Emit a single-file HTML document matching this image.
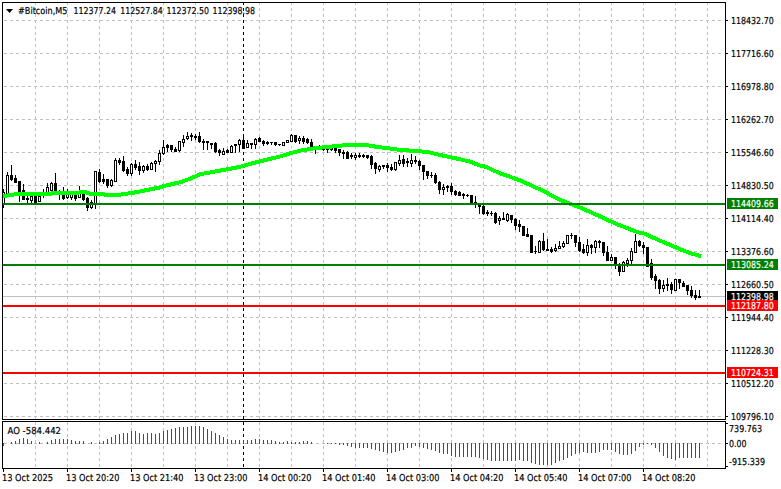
<!DOCTYPE html>
<html><head><meta charset="utf-8"><style>
html,body{margin:0;padding:0;background:#fff;width:781px;height:489px;overflow:hidden}
svg{display:block}
text{font-family:"DejaVu Sans",sans-serif;font-size:9.5px;fill:#000;stroke:#000;stroke-width:0.2px;white-space:pre;text-rendering:geometricPrecision}
</style></head><body>
<svg width="781" height="489" viewBox="0 0 781 489" shape-rendering="crispEdges" xml:space="preserve">
<path d="M4 20.5H724 M4 53.5H724 M4 86.5H724 M4 119.5H724 M4 152.5H724 M4 185.5H724 M4 218.5H724 M4 251.5H724 M4 284.5H724 M4 317.5H724 M4 350.5H724 M4 383.5H724 M4 416.5H724 M35.5 2V419 M35.5 422V468 M67.5 2V419 M67.5 422V468 M99.5 2V419 M99.5 422V468 M131.5 2V419 M131.5 422V468 M163.5 2V419 M163.5 422V468 M195.5 2V419 M195.5 422V468 M227.5 2V419 M227.5 422V468 M259.5 2V419 M259.5 422V468 M291.5 2V419 M291.5 422V468 M323.5 2V419 M323.5 422V468 M355.5 2V419 M355.5 422V468 M387.5 2V419 M387.5 422V468 M419.5 2V419 M419.5 422V468 M451.5 2V419 M451.5 422V468 M483.5 2V419 M483.5 422V468 M515.5 2V419 M515.5 422V468 M547.5 2V419 M547.5 422V468 M579.5 2V419 M579.5 422V468 M611.5 2V419 M611.5 422V468 M643.5 2V419 M643.5 422V468 M675.5 2V419 M675.5 422V468 M707.5 2V419 M707.5 422V468 M4 443.5H724" stroke="#c0c0c0" stroke-width="1" stroke-dasharray="3 3" fill="none"/>
<path d="M243.5 2V419M243.5 422V468" stroke="#000" stroke-width="1" stroke-dasharray="3 3" fill="none"/>
<rect x="3" y="296" width="722" height="1" fill="#c0c0c0"/>
<rect x="3" y="189" width="1" height="3" fill="#000"/>
<rect x="3" y="204" width="1" height="4" fill="#000"/>
<rect x="3" y="192" width="2" height="12" fill="#000"/>
<rect x="3" y="193" width="1" height="10" fill="#fff"/>
<rect x="7" y="172" width="1" height="3" fill="#000"/>
<rect x="6" y="175" width="3" height="19" fill="#000"/>
<rect x="7" y="176" width="1" height="17" fill="#fff"/>
<rect x="11" y="165" width="1" height="10" fill="#000"/>
<rect x="11" y="180" width="1" height="1" fill="#000"/>
<rect x="10" y="175" width="3" height="5" fill="#000"/>
<rect x="15" y="175" width="1" height="3" fill="#000"/>
<rect x="14" y="178" width="3" height="5" fill="#000"/>
<rect x="19" y="192" width="1" height="10" fill="#000"/>
<rect x="18" y="181" width="3" height="11" fill="#000"/>
<rect x="23" y="184" width="1" height="6" fill="#000"/>
<rect x="22" y="190" width="3" height="10" fill="#000"/>
<rect x="27" y="196" width="1" height="2" fill="#000"/>
<rect x="27" y="200" width="1" height="4" fill="#000"/>
<rect x="26" y="198" width="3" height="2" fill="#000"/>
<rect x="31" y="201" width="1" height="3" fill="#000"/>
<rect x="30" y="196" width="3" height="5" fill="#000"/>
<rect x="31" y="197" width="1" height="3" fill="#fff"/>
<rect x="35" y="195" width="1" height="1" fill="#000"/>
<rect x="34" y="196" width="3" height="7" fill="#000"/>
<rect x="38" y="196" width="3" height="6" fill="#000"/>
<rect x="39" y="197" width="1" height="4" fill="#fff"/>
<rect x="43" y="189" width="1" height="3" fill="#000"/>
<rect x="43" y="194" width="1" height="4" fill="#000"/>
<rect x="42" y="192" width="3" height="2" fill="#000"/>
<rect x="47" y="183" width="1" height="4" fill="#000"/>
<rect x="46" y="187" width="3" height="6" fill="#000"/>
<rect x="47" y="188" width="1" height="4" fill="#fff"/>
<rect x="51" y="182" width="1" height="1" fill="#000"/>
<rect x="51" y="191" width="1" height="1" fill="#000"/>
<rect x="50" y="183" width="3" height="8" fill="#000"/>
<rect x="51" y="184" width="1" height="6" fill="#fff"/>
<rect x="55" y="173" width="1" height="10" fill="#000"/>
<rect x="54" y="183" width="3" height="9" fill="#000"/>
<rect x="59" y="190" width="1" height="1" fill="#000"/>
<rect x="59" y="193" width="1" height="7" fill="#000"/>
<rect x="58" y="191" width="3" height="2" fill="#000"/>
<rect x="63" y="187" width="1" height="7" fill="#000"/>
<rect x="63" y="199" width="1" height="1" fill="#000"/>
<rect x="62" y="194" width="3" height="5" fill="#000"/>
<rect x="67" y="189" width="1" height="5" fill="#000"/>
<rect x="67" y="198" width="1" height="1" fill="#000"/>
<rect x="66" y="194" width="3" height="4" fill="#000"/>
<rect x="67" y="195" width="1" height="2" fill="#fff"/>
<rect x="71" y="193" width="1" height="1" fill="#000"/>
<rect x="71" y="198" width="1" height="2" fill="#000"/>
<rect x="70" y="194" width="3" height="4" fill="#000"/>
<rect x="71" y="195" width="1" height="2" fill="#fff"/>
<rect x="75" y="192" width="1" height="2" fill="#000"/>
<rect x="75" y="199" width="1" height="2" fill="#000"/>
<rect x="74" y="194" width="3" height="5" fill="#000"/>
<rect x="79" y="186" width="1" height="5" fill="#000"/>
<rect x="78" y="191" width="3" height="7" fill="#000"/>
<rect x="79" y="192" width="1" height="5" fill="#fff"/>
<rect x="83" y="200" width="1" height="1" fill="#000"/>
<rect x="82" y="194" width="3" height="6" fill="#000"/>
<rect x="87" y="197" width="1" height="1" fill="#000"/>
<rect x="87" y="208" width="1" height="3" fill="#000"/>
<rect x="86" y="198" width="3" height="10" fill="#000"/>
<rect x="91" y="200" width="1" height="2" fill="#000"/>
<rect x="91" y="208" width="1" height="1" fill="#000"/>
<rect x="90" y="202" width="3" height="6" fill="#000"/>
<rect x="91" y="203" width="1" height="4" fill="#fff"/>
<rect x="95" y="204" width="1" height="5" fill="#000"/>
<rect x="94" y="171" width="3" height="33" fill="#000"/>
<rect x="95" y="172" width="1" height="31" fill="#fff"/>
<rect x="99" y="169" width="1" height="3" fill="#000"/>
<rect x="99" y="182" width="1" height="1" fill="#000"/>
<rect x="98" y="172" width="3" height="10" fill="#000"/>
<rect x="103" y="174" width="1" height="5" fill="#000"/>
<rect x="103" y="182" width="1" height="2" fill="#000"/>
<rect x="102" y="179" width="3" height="3" fill="#000"/>
<rect x="107" y="186" width="1" height="2" fill="#000"/>
<rect x="106" y="179" width="3" height="7" fill="#000"/>
<rect x="111" y="179" width="1" height="1" fill="#000"/>
<rect x="111" y="186" width="1" height="1" fill="#000"/>
<rect x="110" y="180" width="3" height="6" fill="#000"/>
<rect x="111" y="181" width="1" height="4" fill="#fff"/>
<rect x="115" y="158" width="1" height="2" fill="#000"/>
<rect x="114" y="160" width="3" height="22" fill="#000"/>
<rect x="115" y="161" width="1" height="20" fill="#fff"/>
<rect x="119" y="158" width="1" height="2" fill="#000"/>
<rect x="119" y="163" width="1" height="2" fill="#000"/>
<rect x="118" y="160" width="3" height="3" fill="#000"/>
<rect x="123" y="156" width="1" height="5" fill="#000"/>
<rect x="123" y="171" width="1" height="1" fill="#000"/>
<rect x="122" y="161" width="3" height="10" fill="#000"/>
<rect x="127" y="167" width="1" height="2" fill="#000"/>
<rect x="127" y="174" width="1" height="2" fill="#000"/>
<rect x="126" y="169" width="3" height="5" fill="#000"/>
<rect x="131" y="163" width="1" height="1" fill="#000"/>
<rect x="131" y="174" width="1" height="2" fill="#000"/>
<rect x="130" y="164" width="3" height="10" fill="#000"/>
<rect x="131" y="165" width="1" height="8" fill="#fff"/>
<rect x="135" y="160" width="1" height="4" fill="#000"/>
<rect x="135" y="168" width="1" height="2" fill="#000"/>
<rect x="134" y="164" width="3" height="4" fill="#000"/>
<rect x="139" y="162" width="1" height="4" fill="#000"/>
<rect x="139" y="171" width="1" height="4" fill="#000"/>
<rect x="138" y="166" width="3" height="5" fill="#000"/>
<rect x="143" y="165" width="1" height="1" fill="#000"/>
<rect x="143" y="171" width="1" height="2" fill="#000"/>
<rect x="142" y="166" width="3" height="5" fill="#000"/>
<rect x="143" y="167" width="1" height="3" fill="#fff"/>
<rect x="147" y="164" width="1" height="2" fill="#000"/>
<rect x="147" y="170" width="1" height="1" fill="#000"/>
<rect x="146" y="166" width="3" height="4" fill="#000"/>
<rect x="151" y="162" width="1" height="1" fill="#000"/>
<rect x="150" y="163" width="3" height="7" fill="#000"/>
<rect x="151" y="164" width="1" height="5" fill="#fff"/>
<rect x="155" y="160" width="1" height="1" fill="#000"/>
<rect x="155" y="164" width="1" height="8" fill="#000"/>
<rect x="154" y="161" width="3" height="3" fill="#000"/>
<rect x="155" y="162" width="1" height="1" fill="#fff"/>
<rect x="159" y="150" width="1" height="3" fill="#000"/>
<rect x="159" y="162" width="1" height="3" fill="#000"/>
<rect x="158" y="153" width="3" height="9" fill="#000"/>
<rect x="159" y="154" width="1" height="7" fill="#fff"/>
<rect x="163" y="140" width="1" height="7" fill="#000"/>
<rect x="163" y="154" width="1" height="1" fill="#000"/>
<rect x="162" y="147" width="3" height="7" fill="#000"/>
<rect x="163" y="148" width="1" height="5" fill="#fff"/>
<rect x="167" y="144" width="1" height="1" fill="#000"/>
<rect x="167" y="148" width="1" height="4" fill="#000"/>
<rect x="166" y="145" width="3" height="3" fill="#000"/>
<rect x="171" y="150" width="1" height="2" fill="#000"/>
<rect x="170" y="145" width="3" height="5" fill="#000"/>
<rect x="175" y="147" width="1" height="2" fill="#000"/>
<rect x="174" y="149" width="3" height="3" fill="#000"/>
<rect x="179" y="151" width="1" height="1" fill="#000"/>
<rect x="178" y="141" width="3" height="10" fill="#000"/>
<rect x="179" y="142" width="1" height="8" fill="#fff"/>
<rect x="183" y="135" width="1" height="4" fill="#000"/>
<rect x="183" y="143" width="1" height="4" fill="#000"/>
<rect x="182" y="139" width="3" height="4" fill="#000"/>
<rect x="183" y="140" width="1" height="2" fill="#fff"/>
<rect x="187" y="132" width="1" height="4" fill="#000"/>
<rect x="187" y="139" width="1" height="1" fill="#000"/>
<rect x="186" y="136" width="3" height="3" fill="#000"/>
<rect x="187" y="137" width="1" height="1" fill="#fff"/>
<rect x="191" y="133" width="1" height="2" fill="#000"/>
<rect x="191" y="137" width="1" height="4" fill="#000"/>
<rect x="190" y="135" width="3" height="2" fill="#000"/>
<rect x="195" y="134" width="1" height="2" fill="#000"/>
<rect x="195" y="138" width="1" height="2" fill="#000"/>
<rect x="194" y="136" width="3" height="2" fill="#000"/>
<rect x="199" y="132" width="1" height="4" fill="#000"/>
<rect x="199" y="142" width="1" height="1" fill="#000"/>
<rect x="198" y="136" width="3" height="6" fill="#000"/>
<rect x="203" y="139" width="1" height="2" fill="#000"/>
<rect x="203" y="143" width="1" height="7" fill="#000"/>
<rect x="202" y="141" width="3" height="2" fill="#000"/>
<rect x="207" y="143" width="1" height="7" fill="#000"/>
<rect x="206" y="141" width="3" height="2" fill="#000"/>
<rect x="211" y="145" width="1" height="4" fill="#000"/>
<rect x="210" y="143" width="3" height="2" fill="#000"/>
<rect x="215" y="142" width="1" height="1" fill="#000"/>
<rect x="215" y="152" width="1" height="1" fill="#000"/>
<rect x="214" y="143" width="3" height="9" fill="#000"/>
<rect x="219" y="149" width="1" height="1" fill="#000"/>
<rect x="219" y="153" width="1" height="3" fill="#000"/>
<rect x="218" y="150" width="3" height="3" fill="#000"/>
<rect x="223" y="148" width="1" height="3" fill="#000"/>
<rect x="222" y="151" width="3" height="4" fill="#000"/>
<rect x="223" y="152" width="1" height="2" fill="#fff"/>
<rect x="227" y="149" width="1" height="1" fill="#000"/>
<rect x="226" y="150" width="3" height="3" fill="#000"/>
<rect x="231" y="145" width="1" height="1" fill="#000"/>
<rect x="230" y="146" width="3" height="7" fill="#000"/>
<rect x="231" y="147" width="1" height="5" fill="#fff"/>
<rect x="235" y="146" width="1" height="7" fill="#000"/>
<rect x="234" y="144" width="3" height="2" fill="#000"/>
<rect x="239" y="139" width="1" height="1" fill="#000"/>
<rect x="239" y="145" width="1" height="7" fill="#000"/>
<rect x="238" y="140" width="3" height="5" fill="#000"/>
<rect x="239" y="141" width="1" height="3" fill="#fff"/>
<rect x="243" y="134" width="1" height="6" fill="#000"/>
<rect x="242" y="140" width="3" height="9" fill="#000"/>
<rect x="247" y="140" width="1" height="3" fill="#000"/>
<rect x="246" y="143" width="3" height="5" fill="#000"/>
<rect x="247" y="144" width="1" height="3" fill="#fff"/>
<rect x="251" y="145" width="1" height="4" fill="#000"/>
<rect x="250" y="143" width="3" height="2" fill="#000"/>
<rect x="255" y="138" width="1" height="1" fill="#000"/>
<rect x="255" y="145" width="1" height="4" fill="#000"/>
<rect x="254" y="139" width="3" height="6" fill="#000"/>
<rect x="255" y="140" width="1" height="4" fill="#fff"/>
<rect x="259" y="137" width="1" height="1" fill="#000"/>
<rect x="258" y="138" width="3" height="4" fill="#000"/>
<rect x="263" y="140" width="1" height="1" fill="#000"/>
<rect x="263" y="144" width="1" height="2" fill="#000"/>
<rect x="262" y="141" width="3" height="3" fill="#000"/>
<rect x="267" y="141" width="1" height="1" fill="#000"/>
<rect x="267" y="144" width="1" height="1" fill="#000"/>
<rect x="266" y="142" width="3" height="2" fill="#000"/>
<rect x="271" y="143" width="1" height="2" fill="#000"/>
<rect x="270" y="142" width="3" height="1" fill="#000"/>
<rect x="275" y="145" width="1" height="1" fill="#000"/>
<rect x="274" y="142" width="3" height="3" fill="#000"/>
<rect x="279" y="145" width="1" height="1" fill="#000"/>
<rect x="278" y="144" width="3" height="1" fill="#000"/>
<rect x="282" y="142" width="3" height="4" fill="#000"/>
<rect x="283" y="143" width="1" height="2" fill="#fff"/>
<rect x="286" y="140" width="3" height="3" fill="#000"/>
<rect x="287" y="141" width="1" height="1" fill="#fff"/>
<rect x="291" y="134" width="1" height="1" fill="#000"/>
<rect x="290" y="135" width="3" height="7" fill="#000"/>
<rect x="291" y="136" width="1" height="5" fill="#fff"/>
<rect x="295" y="142" width="1" height="1" fill="#000"/>
<rect x="294" y="135" width="3" height="7" fill="#000"/>
<rect x="299" y="136" width="1" height="2" fill="#000"/>
<rect x="299" y="141" width="1" height="3" fill="#000"/>
<rect x="298" y="138" width="3" height="3" fill="#000"/>
<rect x="299" y="139" width="1" height="1" fill="#fff"/>
<rect x="303" y="136" width="1" height="2" fill="#000"/>
<rect x="303" y="142" width="1" height="2" fill="#000"/>
<rect x="302" y="138" width="3" height="4" fill="#000"/>
<rect x="307" y="138" width="1" height="1" fill="#000"/>
<rect x="307" y="143" width="1" height="1" fill="#000"/>
<rect x="306" y="139" width="3" height="4" fill="#000"/>
<rect x="311" y="139" width="1" height="3" fill="#000"/>
<rect x="311" y="147" width="1" height="1" fill="#000"/>
<rect x="310" y="142" width="3" height="5" fill="#000"/>
<rect x="315" y="146" width="1" height="1" fill="#000"/>
<rect x="315" y="150" width="1" height="4" fill="#000"/>
<rect x="314" y="147" width="3" height="3" fill="#000"/>
<rect x="319" y="145" width="1" height="1" fill="#000"/>
<rect x="319" y="148" width="1" height="1" fill="#000"/>
<rect x="318" y="146" width="3" height="2" fill="#000"/>
<rect x="323" y="147" width="1" height="1" fill="#000"/>
<rect x="323" y="150" width="1" height="1" fill="#000"/>
<rect x="322" y="148" width="3" height="2" fill="#000"/>
<rect x="327" y="150" width="1" height="3" fill="#000"/>
<rect x="326" y="148" width="3" height="2" fill="#000"/>
<rect x="331" y="150" width="1" height="1" fill="#000"/>
<rect x="330" y="148" width="3" height="2" fill="#000"/>
<rect x="335" y="151" width="1" height="2" fill="#000"/>
<rect x="334" y="148" width="3" height="3" fill="#000"/>
<rect x="339" y="153" width="1" height="3" fill="#000"/>
<rect x="338" y="149" width="3" height="4" fill="#000"/>
<rect x="343" y="150" width="1" height="2" fill="#000"/>
<rect x="343" y="154" width="1" height="5" fill="#000"/>
<rect x="342" y="152" width="3" height="2" fill="#000"/>
<rect x="347" y="151" width="1" height="1" fill="#000"/>
<rect x="346" y="152" width="3" height="7" fill="#000"/>
<rect x="351" y="153" width="1" height="2" fill="#000"/>
<rect x="351" y="157" width="1" height="2" fill="#000"/>
<rect x="350" y="155" width="3" height="2" fill="#000"/>
<rect x="355" y="153" width="1" height="2" fill="#000"/>
<rect x="355" y="158" width="1" height="2" fill="#000"/>
<rect x="354" y="155" width="3" height="3" fill="#000"/>
<rect x="355" y="156" width="1" height="1" fill="#fff"/>
<rect x="359" y="153" width="1" height="2" fill="#000"/>
<rect x="359" y="157" width="1" height="1" fill="#000"/>
<rect x="358" y="155" width="3" height="2" fill="#000"/>
<rect x="363" y="154" width="1" height="1" fill="#000"/>
<rect x="363" y="157" width="1" height="1" fill="#000"/>
<rect x="362" y="155" width="3" height="2" fill="#000"/>
<rect x="367" y="158" width="1" height="1" fill="#000"/>
<rect x="366" y="155" width="3" height="3" fill="#000"/>
<rect x="371" y="155" width="1" height="1" fill="#000"/>
<rect x="371" y="165" width="1" height="4" fill="#000"/>
<rect x="370" y="156" width="3" height="9" fill="#000"/>
<rect x="375" y="162" width="1" height="1" fill="#000"/>
<rect x="375" y="169" width="1" height="5" fill="#000"/>
<rect x="374" y="163" width="3" height="6" fill="#000"/>
<rect x="379" y="165" width="1" height="1" fill="#000"/>
<rect x="379" y="170" width="1" height="2" fill="#000"/>
<rect x="378" y="166" width="3" height="4" fill="#000"/>
<rect x="379" y="167" width="1" height="2" fill="#fff"/>
<rect x="383" y="167" width="1" height="2" fill="#000"/>
<rect x="382" y="165" width="3" height="2" fill="#000"/>
<rect x="387" y="163" width="1" height="2" fill="#000"/>
<rect x="387" y="168" width="1" height="4" fill="#000"/>
<rect x="386" y="165" width="3" height="3" fill="#000"/>
<rect x="391" y="164" width="1" height="3" fill="#000"/>
<rect x="391" y="170" width="1" height="1" fill="#000"/>
<rect x="390" y="167" width="3" height="3" fill="#000"/>
<rect x="395" y="170" width="1" height="1" fill="#000"/>
<rect x="394" y="162" width="3" height="8" fill="#000"/>
<rect x="395" y="163" width="1" height="6" fill="#fff"/>
<rect x="399" y="155" width="1" height="5" fill="#000"/>
<rect x="399" y="164" width="1" height="2" fill="#000"/>
<rect x="398" y="160" width="3" height="4" fill="#000"/>
<rect x="399" y="161" width="1" height="2" fill="#fff"/>
<rect x="403" y="155" width="1" height="4" fill="#000"/>
<rect x="403" y="164" width="1" height="3" fill="#000"/>
<rect x="402" y="159" width="3" height="5" fill="#000"/>
<rect x="407" y="158" width="1" height="3" fill="#000"/>
<rect x="407" y="163" width="1" height="4" fill="#000"/>
<rect x="406" y="161" width="3" height="2" fill="#000"/>
<rect x="411" y="154" width="1" height="6" fill="#000"/>
<rect x="411" y="164" width="1" height="3" fill="#000"/>
<rect x="410" y="160" width="3" height="4" fill="#000"/>
<rect x="411" y="161" width="1" height="2" fill="#fff"/>
<rect x="415" y="156" width="1" height="4" fill="#000"/>
<rect x="415" y="162" width="1" height="2" fill="#000"/>
<rect x="414" y="160" width="3" height="2" fill="#000"/>
<rect x="419" y="160" width="1" height="1" fill="#000"/>
<rect x="419" y="166" width="1" height="4" fill="#000"/>
<rect x="418" y="161" width="3" height="5" fill="#000"/>
<rect x="423" y="172" width="1" height="8" fill="#000"/>
<rect x="422" y="165" width="3" height="7" fill="#000"/>
<rect x="427" y="176" width="1" height="3" fill="#000"/>
<rect x="426" y="171" width="3" height="5" fill="#000"/>
<rect x="431" y="172" width="1" height="3" fill="#000"/>
<rect x="431" y="176" width="1" height="2" fill="#000"/>
<rect x="430" y="175" width="3" height="1" fill="#000"/>
<rect x="435" y="173" width="1" height="2" fill="#000"/>
<rect x="435" y="183" width="1" height="1" fill="#000"/>
<rect x="434" y="175" width="3" height="8" fill="#000"/>
<rect x="439" y="181" width="1" height="1" fill="#000"/>
<rect x="439" y="190" width="1" height="4" fill="#000"/>
<rect x="438" y="182" width="3" height="8" fill="#000"/>
<rect x="443" y="184" width="1" height="3" fill="#000"/>
<rect x="443" y="190" width="1" height="5" fill="#000"/>
<rect x="442" y="187" width="3" height="3" fill="#000"/>
<rect x="443" y="188" width="1" height="1" fill="#fff"/>
<rect x="447" y="185" width="1" height="1" fill="#000"/>
<rect x="447" y="188" width="1" height="4" fill="#000"/>
<rect x="446" y="186" width="3" height="2" fill="#000"/>
<rect x="451" y="183" width="1" height="3" fill="#000"/>
<rect x="451" y="192" width="1" height="3" fill="#000"/>
<rect x="450" y="186" width="3" height="6" fill="#000"/>
<rect x="455" y="190" width="1" height="1" fill="#000"/>
<rect x="455" y="195" width="1" height="1" fill="#000"/>
<rect x="454" y="191" width="3" height="4" fill="#000"/>
<rect x="459" y="191" width="1" height="1" fill="#000"/>
<rect x="458" y="192" width="3" height="4" fill="#000"/>
<rect x="463" y="193" width="1" height="1" fill="#000"/>
<rect x="463" y="196" width="1" height="3" fill="#000"/>
<rect x="462" y="194" width="3" height="2" fill="#000"/>
<rect x="467" y="194" width="1" height="1" fill="#000"/>
<rect x="467" y="196" width="1" height="1" fill="#000"/>
<rect x="466" y="195" width="3" height="1" fill="#000"/>
<rect x="470" y="195" width="3" height="8" fill="#000"/>
<rect x="475" y="196" width="1" height="6" fill="#000"/>
<rect x="475" y="204" width="1" height="4" fill="#000"/>
<rect x="474" y="202" width="3" height="2" fill="#000"/>
<rect x="479" y="207" width="1" height="7" fill="#000"/>
<rect x="478" y="205" width="3" height="2" fill="#000"/>
<rect x="483" y="205" width="1" height="1" fill="#000"/>
<rect x="483" y="214" width="1" height="1" fill="#000"/>
<rect x="482" y="206" width="3" height="8" fill="#000"/>
<rect x="487" y="210" width="1" height="2" fill="#000"/>
<rect x="487" y="214" width="1" height="2" fill="#000"/>
<rect x="486" y="212" width="3" height="2" fill="#000"/>
<rect x="491" y="211" width="1" height="2" fill="#000"/>
<rect x="491" y="214" width="1" height="2" fill="#000"/>
<rect x="490" y="213" width="3" height="1" fill="#000"/>
<rect x="495" y="212" width="1" height="1" fill="#000"/>
<rect x="495" y="223" width="1" height="1" fill="#000"/>
<rect x="494" y="213" width="3" height="10" fill="#000"/>
<rect x="499" y="216" width="1" height="2" fill="#000"/>
<rect x="499" y="221" width="1" height="4" fill="#000"/>
<rect x="498" y="218" width="3" height="3" fill="#000"/>
<rect x="499" y="219" width="1" height="1" fill="#fff"/>
<rect x="503" y="212" width="1" height="6" fill="#000"/>
<rect x="502" y="218" width="3" height="2" fill="#000"/>
<rect x="507" y="213" width="1" height="1" fill="#000"/>
<rect x="507" y="221" width="1" height="1" fill="#000"/>
<rect x="506" y="214" width="3" height="7" fill="#000"/>
<rect x="507" y="215" width="1" height="5" fill="#fff"/>
<rect x="511" y="220" width="1" height="3" fill="#000"/>
<rect x="510" y="215" width="3" height="5" fill="#000"/>
<rect x="515" y="218" width="1" height="1" fill="#000"/>
<rect x="515" y="226" width="1" height="4" fill="#000"/>
<rect x="514" y="219" width="3" height="7" fill="#000"/>
<rect x="519" y="220" width="1" height="4" fill="#000"/>
<rect x="519" y="227" width="1" height="5" fill="#000"/>
<rect x="518" y="224" width="3" height="3" fill="#000"/>
<rect x="522" y="226" width="3" height="10" fill="#000"/>
<rect x="527" y="228" width="1" height="6" fill="#000"/>
<rect x="526" y="234" width="3" height="3" fill="#000"/>
<rect x="530" y="235" width="3" height="18" fill="#000"/>
<rect x="535" y="246" width="1" height="5" fill="#000"/>
<rect x="535" y="252" width="1" height="2" fill="#000"/>
<rect x="534" y="251" width="3" height="1" fill="#000"/>
<rect x="539" y="240" width="1" height="1" fill="#000"/>
<rect x="538" y="241" width="3" height="12" fill="#000"/>
<rect x="539" y="242" width="1" height="10" fill="#fff"/>
<rect x="543" y="233" width="1" height="8" fill="#000"/>
<rect x="543" y="250" width="1" height="1" fill="#000"/>
<rect x="542" y="241" width="3" height="9" fill="#000"/>
<rect x="547" y="239" width="1" height="10" fill="#000"/>
<rect x="546" y="249" width="3" height="2" fill="#000"/>
<rect x="551" y="247" width="1" height="2" fill="#000"/>
<rect x="551" y="252" width="1" height="1" fill="#000"/>
<rect x="550" y="249" width="3" height="3" fill="#000"/>
<rect x="555" y="244" width="1" height="4" fill="#000"/>
<rect x="555" y="251" width="1" height="1" fill="#000"/>
<rect x="554" y="248" width="3" height="3" fill="#000"/>
<rect x="555" y="249" width="1" height="1" fill="#fff"/>
<rect x="559" y="241" width="1" height="5" fill="#000"/>
<rect x="558" y="246" width="3" height="3" fill="#000"/>
<rect x="559" y="247" width="1" height="1" fill="#fff"/>
<rect x="563" y="241" width="1" height="2" fill="#000"/>
<rect x="563" y="247" width="1" height="1" fill="#000"/>
<rect x="562" y="243" width="3" height="4" fill="#000"/>
<rect x="563" y="244" width="1" height="2" fill="#fff"/>
<rect x="566" y="235" width="3" height="9" fill="#000"/>
<rect x="567" y="236" width="1" height="7" fill="#fff"/>
<rect x="571" y="233" width="1" height="2" fill="#000"/>
<rect x="571" y="236" width="1" height="3" fill="#000"/>
<rect x="570" y="235" width="3" height="1" fill="#000"/>
<rect x="575" y="243" width="1" height="4" fill="#000"/>
<rect x="574" y="235" width="3" height="8" fill="#000"/>
<rect x="579" y="237" width="1" height="5" fill="#000"/>
<rect x="579" y="251" width="1" height="1" fill="#000"/>
<rect x="578" y="242" width="3" height="9" fill="#000"/>
<rect x="583" y="244" width="1" height="5" fill="#000"/>
<rect x="583" y="253" width="1" height="1" fill="#000"/>
<rect x="582" y="249" width="3" height="4" fill="#000"/>
<rect x="587" y="239" width="1" height="6" fill="#000"/>
<rect x="587" y="253" width="1" height="3" fill="#000"/>
<rect x="586" y="245" width="3" height="8" fill="#000"/>
<rect x="587" y="246" width="1" height="6" fill="#fff"/>
<rect x="591" y="244" width="1" height="1" fill="#000"/>
<rect x="591" y="248" width="1" height="6" fill="#000"/>
<rect x="590" y="245" width="3" height="3" fill="#000"/>
<rect x="595" y="240" width="1" height="1" fill="#000"/>
<rect x="595" y="248" width="1" height="5" fill="#000"/>
<rect x="594" y="241" width="3" height="7" fill="#000"/>
<rect x="595" y="242" width="1" height="5" fill="#fff"/>
<rect x="599" y="240" width="1" height="1" fill="#000"/>
<rect x="599" y="243" width="1" height="5" fill="#000"/>
<rect x="598" y="241" width="3" height="2" fill="#000"/>
<rect x="603" y="253" width="1" height="3" fill="#000"/>
<rect x="602" y="242" width="3" height="11" fill="#000"/>
<rect x="607" y="246" width="1" height="6" fill="#000"/>
<rect x="606" y="252" width="3" height="9" fill="#000"/>
<rect x="611" y="254" width="1" height="3" fill="#000"/>
<rect x="610" y="257" width="3" height="4" fill="#000"/>
<rect x="611" y="258" width="1" height="2" fill="#fff"/>
<rect x="615" y="266" width="1" height="3" fill="#000"/>
<rect x="614" y="257" width="3" height="9" fill="#000"/>
<rect x="619" y="263" width="1" height="1" fill="#000"/>
<rect x="619" y="272" width="1" height="4" fill="#000"/>
<rect x="618" y="264" width="3" height="8" fill="#000"/>
<rect x="623" y="261" width="1" height="1" fill="#000"/>
<rect x="622" y="262" width="3" height="10" fill="#000"/>
<rect x="623" y="263" width="1" height="8" fill="#fff"/>
<rect x="627" y="258" width="1" height="2" fill="#000"/>
<rect x="627" y="264" width="1" height="3" fill="#000"/>
<rect x="626" y="260" width="3" height="4" fill="#000"/>
<rect x="627" y="261" width="1" height="2" fill="#fff"/>
<rect x="631" y="248" width="1" height="3" fill="#000"/>
<rect x="631" y="261" width="1" height="3" fill="#000"/>
<rect x="630" y="251" width="3" height="10" fill="#000"/>
<rect x="631" y="252" width="1" height="8" fill="#fff"/>
<rect x="635" y="234" width="1" height="7" fill="#000"/>
<rect x="634" y="241" width="3" height="12" fill="#000"/>
<rect x="635" y="242" width="1" height="10" fill="#fff"/>
<rect x="639" y="240" width="1" height="1" fill="#000"/>
<rect x="639" y="246" width="1" height="1" fill="#000"/>
<rect x="638" y="241" width="3" height="5" fill="#000"/>
<rect x="643" y="242" width="1" height="3" fill="#000"/>
<rect x="643" y="248" width="1" height="6" fill="#000"/>
<rect x="642" y="245" width="3" height="3" fill="#000"/>
<rect x="646" y="247" width="3" height="20" fill="#000"/>
<rect x="651" y="259" width="1" height="4" fill="#000"/>
<rect x="651" y="278" width="1" height="2" fill="#000"/>
<rect x="650" y="263" width="3" height="15" fill="#000"/>
<rect x="655" y="274" width="1" height="2" fill="#000"/>
<rect x="655" y="281" width="1" height="8" fill="#000"/>
<rect x="654" y="276" width="3" height="5" fill="#000"/>
<rect x="659" y="279" width="1" height="1" fill="#000"/>
<rect x="659" y="289" width="1" height="5" fill="#000"/>
<rect x="658" y="280" width="3" height="9" fill="#000"/>
<rect x="663" y="280" width="1" height="5" fill="#000"/>
<rect x="663" y="289" width="1" height="3" fill="#000"/>
<rect x="662" y="285" width="3" height="4" fill="#000"/>
<rect x="663" y="286" width="1" height="2" fill="#fff"/>
<rect x="667" y="278" width="1" height="6" fill="#000"/>
<rect x="667" y="286" width="1" height="5" fill="#000"/>
<rect x="666" y="284" width="3" height="2" fill="#000"/>
<rect x="671" y="282" width="1" height="2" fill="#000"/>
<rect x="671" y="290" width="1" height="4" fill="#000"/>
<rect x="670" y="284" width="3" height="6" fill="#000"/>
<rect x="674" y="279" width="3" height="12" fill="#000"/>
<rect x="675" y="280" width="1" height="10" fill="#fff"/>
<rect x="679" y="283" width="1" height="6" fill="#000"/>
<rect x="678" y="279" width="3" height="4" fill="#000"/>
<rect x="683" y="281" width="1" height="2" fill="#000"/>
<rect x="682" y="283" width="3" height="4" fill="#000"/>
<rect x="687" y="291" width="1" height="4" fill="#000"/>
<rect x="686" y="285" width="3" height="6" fill="#000"/>
<rect x="691" y="286" width="1" height="4" fill="#000"/>
<rect x="691" y="296" width="1" height="2" fill="#000"/>
<rect x="690" y="290" width="3" height="6" fill="#000"/>
<rect x="695" y="290" width="1" height="5" fill="#000"/>
<rect x="695" y="298" width="1" height="2" fill="#000"/>
<rect x="694" y="295" width="3" height="3" fill="#000"/>
<rect x="699" y="290" width="1" height="6" fill="#000"/>
<rect x="698" y="296" width="3" height="2" fill="#000"/>
<polyline points="3,195.9 12,195.1 16,193.9 50,193.8 55,192.9 76,193 80,192.3 86,192.3 90,193.7 100,193.9 106,194.7 120,194.7 126,193.8 130,193.3 140,191.5 150,189.4 160,187.4 165,185.8 170,184.6 180,182.3 190,178.8 200,174.2 205,173.3 210,172.5 220,170.6 230,168.8 240,166.8 250,163.9 260,161.4 270,158.9 280,156.5 290,153.3 300,150.7 310,149 315,148.2 320,147.7 330,146.7 340,145.8 344,145.1 350,144.8 360,144.8 367,145.1 370,145.8 375,146.6 380,147.2 385,147.9 390,148.5 400,149.9 410,150.6 420,151.3 430,152.5 440,155 450,157.1 460,159.3 470,161.6 480,165.5 486,166.9 490,169 500,173.2 510,176.8 520,180.4 530,184.9 540,189.4 550,194.5 560,199.8 570,203.7 580,207.5 590,211.9 600,216.3 610,221.1 620,225.4 630,229.2 635,231.2 640,232.8 645,233.7 650,236.2 660,240.7 670,244.8 680,249.2 690,253 701,256.3" fill="none" stroke="#00ff00" stroke-width="4" stroke-linejoin="round"/>
<rect x="3" y="203" width="722" height="2" fill="#008000"/>
<rect x="3" y="264" width="722" height="2" fill="#008000"/>
<rect x="3" y="305" width="722" height="2" fill="#ff0000"/>
<rect x="3" y="372" width="722" height="2" fill="#ff0000"/>
<rect x="3" y="443" width="1" height="3" fill="#008000"/>
<rect x="11" y="442" width="1" height="2" fill="#008000"/>
<rect x="15" y="441" width="1" height="3" fill="#008000"/>
<rect x="19" y="439" width="1" height="5" fill="#008000"/>
<rect x="23" y="438" width="1" height="6" fill="#008000"/>
<rect x="27" y="439" width="1" height="5" fill="#ff0000"/>
<rect x="31" y="441" width="1" height="3" fill="#ff0000"/>
<rect x="39" y="442" width="1" height="2" fill="#ff0000"/>
<rect x="47" y="442" width="1" height="2" fill="#008000"/>
<rect x="51" y="440" width="1" height="4" fill="#008000"/>
<rect x="55" y="439" width="1" height="5" fill="#008000"/>
<rect x="59" y="439" width="1" height="5" fill="#008000"/>
<rect x="63" y="439" width="1" height="5" fill="#ff0000"/>
<rect x="67" y="439" width="1" height="5" fill="#ff0000"/>
<rect x="71" y="440" width="1" height="4" fill="#ff0000"/>
<rect x="75" y="441" width="1" height="3" fill="#ff0000"/>
<rect x="79" y="441" width="1" height="3" fill="#008000"/>
<rect x="83" y="441" width="1" height="3" fill="#ff0000"/>
<rect x="91" y="442" width="1" height="2" fill="#ff0000"/>
<rect x="99" y="442" width="1" height="2" fill="#008000"/>
<rect x="103" y="441" width="1" height="3" fill="#008000"/>
<rect x="107" y="439" width="1" height="5" fill="#008000"/>
<rect x="111" y="437" width="1" height="7" fill="#008000"/>
<rect x="115" y="435" width="1" height="9" fill="#008000"/>
<rect x="119" y="434" width="1" height="10" fill="#008000"/>
<rect x="123" y="433" width="1" height="11" fill="#008000"/>
<rect x="127" y="433" width="1" height="11" fill="#008000"/>
<rect x="131" y="431" width="1" height="13" fill="#008000"/>
<rect x="135" y="431" width="1" height="13" fill="#ff0000"/>
<rect x="139" y="433" width="1" height="11" fill="#ff0000"/>
<rect x="143" y="434" width="1" height="10" fill="#ff0000"/>
<rect x="147" y="433" width="1" height="11" fill="#008000"/>
<rect x="151" y="433" width="1" height="11" fill="#008000"/>
<rect x="155" y="434" width="1" height="10" fill="#ff0000"/>
<rect x="159" y="433" width="1" height="11" fill="#008000"/>
<rect x="163" y="431" width="1" height="13" fill="#008000"/>
<rect x="167" y="430" width="1" height="14" fill="#008000"/>
<rect x="171" y="429" width="1" height="15" fill="#008000"/>
<rect x="175" y="428" width="1" height="16" fill="#008000"/>
<rect x="179" y="427" width="1" height="17" fill="#008000"/>
<rect x="183" y="427" width="1" height="17" fill="#008000"/>
<rect x="187" y="427" width="1" height="17" fill="#008000"/>
<rect x="191" y="426" width="1" height="18" fill="#008000"/>
<rect x="195" y="426" width="1" height="18" fill="#008000"/>
<rect x="199" y="426" width="1" height="18" fill="#008000"/>
<rect x="203" y="427" width="1" height="17" fill="#ff0000"/>
<rect x="207" y="429" width="1" height="15" fill="#ff0000"/>
<rect x="211" y="431" width="1" height="13" fill="#ff0000"/>
<rect x="215" y="433" width="1" height="11" fill="#ff0000"/>
<rect x="219" y="435" width="1" height="9" fill="#ff0000"/>
<rect x="223" y="437" width="1" height="7" fill="#ff0000"/>
<rect x="227" y="439" width="1" height="5" fill="#ff0000"/>
<rect x="231" y="440" width="1" height="4" fill="#ff0000"/>
<rect x="235" y="440" width="1" height="4" fill="#ff0000"/>
<rect x="239" y="440" width="1" height="4" fill="#008000"/>
<rect x="243" y="440" width="1" height="4" fill="#008000"/>
<rect x="247" y="440" width="1" height="4" fill="#008000"/>
<rect x="251" y="440" width="1" height="4" fill="#ff0000"/>
<rect x="255" y="439" width="1" height="5" fill="#008000"/>
<rect x="259" y="439" width="1" height="5" fill="#008000"/>
<rect x="263" y="440" width="1" height="4" fill="#ff0000"/>
<rect x="267" y="440" width="1" height="4" fill="#ff0000"/>
<rect x="271" y="440" width="1" height="4" fill="#ff0000"/>
<rect x="275" y="441" width="1" height="3" fill="#ff0000"/>
<rect x="279" y="442" width="1" height="2" fill="#ff0000"/>
<rect x="283" y="442" width="1" height="2" fill="#ff0000"/>
<rect x="287" y="441" width="1" height="3" fill="#ff0000"/>
<rect x="291" y="442" width="1" height="2" fill="#008000"/>
<rect x="295" y="442" width="1" height="2" fill="#008000"/>
<rect x="299" y="442" width="1" height="2" fill="#008000"/>
<rect x="303" y="441" width="1" height="3" fill="#008000"/>
<rect x="307" y="441" width="1" height="3" fill="#ff0000"/>
<rect x="311" y="442" width="1" height="2" fill="#ff0000"/>
<rect x="327" y="443" width="1" height="1" fill="#ff0000"/>
<rect x="331" y="443" width="1" height="1" fill="#ff0000"/>
<rect x="335" y="443" width="1" height="1" fill="#008000"/>
<rect x="339" y="443" width="1" height="2" fill="#ff0000"/>
<rect x="343" y="443" width="1" height="2" fill="#ff0000"/>
<rect x="347" y="443" width="1" height="3" fill="#ff0000"/>
<rect x="351" y="443" width="1" height="4" fill="#ff0000"/>
<rect x="355" y="443" width="1" height="5" fill="#ff0000"/>
<rect x="359" y="443" width="1" height="5" fill="#ff0000"/>
<rect x="363" y="443" width="1" height="5" fill="#008000"/>
<rect x="367" y="443" width="1" height="5" fill="#ff0000"/>
<rect x="371" y="443" width="1" height="6" fill="#ff0000"/>
<rect x="375" y="443" width="1" height="7" fill="#ff0000"/>
<rect x="379" y="443" width="1" height="8" fill="#ff0000"/>
<rect x="383" y="443" width="1" height="9" fill="#ff0000"/>
<rect x="387" y="443" width="1" height="10" fill="#ff0000"/>
<rect x="391" y="443" width="1" height="10" fill="#ff0000"/>
<rect x="395" y="443" width="1" height="9" fill="#008000"/>
<rect x="399" y="443" width="1" height="8" fill="#008000"/>
<rect x="403" y="443" width="1" height="7" fill="#008000"/>
<rect x="407" y="443" width="1" height="5" fill="#008000"/>
<rect x="411" y="443" width="1" height="5" fill="#008000"/>
<rect x="415" y="443" width="1" height="3" fill="#008000"/>
<rect x="419" y="443" width="1" height="4" fill="#ff0000"/>
<rect x="423" y="443" width="1" height="5" fill="#ff0000"/>
<rect x="427" y="443" width="1" height="6" fill="#ff0000"/>
<rect x="431" y="443" width="1" height="7" fill="#ff0000"/>
<rect x="435" y="443" width="1" height="8" fill="#ff0000"/>
<rect x="439" y="443" width="1" height="10" fill="#ff0000"/>
<rect x="443" y="443" width="1" height="11" fill="#ff0000"/>
<rect x="447" y="443" width="1" height="11" fill="#ff0000"/>
<rect x="451" y="443" width="1" height="13" fill="#ff0000"/>
<rect x="455" y="443" width="1" height="14" fill="#ff0000"/>
<rect x="459" y="443" width="1" height="14" fill="#008000"/>
<rect x="463" y="443" width="1" height="14" fill="#008000"/>
<rect x="467" y="443" width="1" height="14" fill="#ff0000"/>
<rect x="471" y="443" width="1" height="14" fill="#ff0000"/>
<rect x="475" y="443" width="1" height="14" fill="#ff0000"/>
<rect x="479" y="443" width="1" height="15" fill="#ff0000"/>
<rect x="483" y="443" width="1" height="16" fill="#ff0000"/>
<rect x="487" y="443" width="1" height="17" fill="#ff0000"/>
<rect x="491" y="443" width="1" height="18" fill="#ff0000"/>
<rect x="495" y="443" width="1" height="18" fill="#ff0000"/>
<rect x="499" y="443" width="1" height="18" fill="#ff0000"/>
<rect x="503" y="443" width="1" height="18" fill="#008000"/>
<rect x="507" y="443" width="1" height="18" fill="#008000"/>
<rect x="511" y="443" width="1" height="18" fill="#008000"/>
<rect x="515" y="443" width="1" height="18" fill="#008000"/>
<rect x="519" y="443" width="1" height="17" fill="#008000"/>
<rect x="523" y="443" width="1" height="18" fill="#ff0000"/>
<rect x="527" y="443" width="1" height="18" fill="#ff0000"/>
<rect x="531" y="443" width="1" height="20" fill="#ff0000"/>
<rect x="535" y="443" width="1" height="21" fill="#ff0000"/>
<rect x="539" y="443" width="1" height="22" fill="#ff0000"/>
<rect x="543" y="443" width="1" height="22" fill="#008000"/>
<rect x="547" y="443" width="1" height="22" fill="#ff0000"/>
<rect x="551" y="443" width="1" height="22" fill="#008000"/>
<rect x="555" y="443" width="1" height="20" fill="#008000"/>
<rect x="559" y="443" width="1" height="18" fill="#008000"/>
<rect x="563" y="443" width="1" height="17" fill="#008000"/>
<rect x="567" y="443" width="1" height="15" fill="#008000"/>
<rect x="571" y="443" width="1" height="13" fill="#008000"/>
<rect x="575" y="443" width="1" height="11" fill="#008000"/>
<rect x="579" y="443" width="1" height="10" fill="#008000"/>
<rect x="583" y="443" width="1" height="9" fill="#008000"/>
<rect x="587" y="443" width="1" height="10" fill="#008000"/>
<rect x="591" y="443" width="1" height="10" fill="#ff0000"/>
<rect x="595" y="443" width="1" height="10" fill="#008000"/>
<rect x="599" y="443" width="1" height="9" fill="#008000"/>
<rect x="603" y="443" width="1" height="7" fill="#008000"/>
<rect x="607" y="443" width="1" height="7" fill="#008000"/>
<rect x="611" y="443" width="1" height="7" fill="#ff0000"/>
<rect x="615" y="443" width="1" height="9" fill="#ff0000"/>
<rect x="619" y="443" width="1" height="11" fill="#ff0000"/>
<rect x="623" y="443" width="1" height="12" fill="#ff0000"/>
<rect x="627" y="443" width="1" height="12" fill="#ff0000"/>
<rect x="631" y="443" width="1" height="11" fill="#008000"/>
<rect x="635" y="443" width="1" height="8" fill="#008000"/>
<rect x="639" y="443" width="1" height="4" fill="#008000"/>
<rect x="643" y="443" width="1" height="2" fill="#008000"/>
<rect x="647" y="443" width="1" height="1" fill="#008000"/>
<rect x="651" y="443" width="1" height="2" fill="#ff0000"/>
<rect x="655" y="443" width="1" height="5" fill="#ff0000"/>
<rect x="659" y="443" width="1" height="9" fill="#ff0000"/>
<rect x="663" y="443" width="1" height="13" fill="#ff0000"/>
<rect x="667" y="443" width="1" height="15" fill="#ff0000"/>
<rect x="671" y="443" width="1" height="16" fill="#ff0000"/>
<rect x="675" y="443" width="1" height="17" fill="#008000"/>
<rect x="679" y="443" width="1" height="15" fill="#008000"/>
<rect x="683" y="443" width="1" height="15" fill="#008000"/>
<rect x="687" y="443" width="1" height="15" fill="#008000"/>
<rect x="691" y="443" width="1" height="15" fill="#008000"/>
<rect x="695" y="443" width="1" height="15" fill="#ff0000"/>
<rect x="699" y="443" width="1" height="15" fill="#ff0000"/>
<rect x="2" y="2" width="724" height="1" fill="#000"/>
<rect x="2" y="419" width="724" height="1" fill="#000"/>
<rect x="2" y="2" width="1" height="418" fill="#000"/>
<rect x="725" y="2" width="1" height="418" fill="#000"/>
<rect x="2" y="421" width="724" height="1" fill="#000"/>
<rect x="2" y="468" width="724" height="1" fill="#000"/>
<rect x="2" y="421" width="1" height="48" fill="#000"/>
<rect x="725" y="421" width="1" height="48" fill="#000"/>
<rect x="726" y="20" width="2" height="1" fill="#000"/>
<rect x="726" y="53" width="2" height="1" fill="#000"/>
<rect x="726" y="86" width="2" height="1" fill="#000"/>
<rect x="726" y="119" width="2" height="1" fill="#000"/>
<rect x="726" y="152" width="2" height="1" fill="#000"/>
<rect x="726" y="185" width="2" height="1" fill="#000"/>
<rect x="726" y="218" width="2" height="1" fill="#000"/>
<rect x="726" y="251" width="2" height="1" fill="#000"/>
<rect x="726" y="284" width="2" height="1" fill="#000"/>
<rect x="726" y="317" width="2" height="1" fill="#000"/>
<rect x="726" y="350" width="2" height="1" fill="#000"/>
<rect x="726" y="383" width="2" height="1" fill="#000"/>
<rect x="726" y="416" width="2" height="1" fill="#000"/>
<rect x="726" y="423" width="2" height="1" fill="#000"/>
<rect x="726" y="443" width="2" height="1" fill="#000"/>
<rect x="726" y="466" width="2" height="1" fill="#000"/>
<rect x="3" y="469" width="1" height="3" fill="#000"/>
<rect x="67" y="469" width="1" height="3" fill="#000"/>
<rect x="131" y="469" width="1" height="3" fill="#000"/>
<rect x="195" y="469" width="1" height="3" fill="#000"/>
<rect x="259" y="469" width="1" height="3" fill="#000"/>
<rect x="323" y="469" width="1" height="3" fill="#000"/>
<rect x="387" y="469" width="1" height="3" fill="#000"/>
<rect x="451" y="469" width="1" height="3" fill="#000"/>
<rect x="515" y="469" width="1" height="3" fill="#000"/>
<rect x="579" y="469" width="1" height="3" fill="#000"/>
<rect x="643" y="469" width="1" height="3" fill="#000"/>
<rect x="727" y="198" width="51" height="11" fill="#008000"/>
<rect x="727" y="259" width="51" height="11" fill="#008000"/>
<rect x="727" y="291" width="51" height="11" fill="#000"/>
<rect x="727" y="300" width="51" height="11" fill="#ff0000"/>
<rect x="727" y="367" width="51" height="11" fill="#ff0000"/>
<path d="M6 9H13L9.5 13Z" fill="#000" shape-rendering="auto"/>
<text x="731" y="24" textLength="42.7" lengthAdjust="spacingAndGlyphs">118432.70</text>
<text x="731" y="57" textLength="42.7" lengthAdjust="spacingAndGlyphs">117716.60</text>
<text x="731" y="90" textLength="42.7" lengthAdjust="spacingAndGlyphs">116978.80</text>
<text x="731" y="123" textLength="42.7" lengthAdjust="spacingAndGlyphs">116262.70</text>
<text x="731" y="156" textLength="42.7" lengthAdjust="spacingAndGlyphs">115546.60</text>
<text x="731" y="189" textLength="42.7" lengthAdjust="spacingAndGlyphs">114830.50</text>
<text x="731" y="222" textLength="42.7" lengthAdjust="spacingAndGlyphs">114114.40</text>
<text x="731" y="255" textLength="42.7" lengthAdjust="spacingAndGlyphs">113376.60</text>
<text x="731" y="288" textLength="42.7" lengthAdjust="spacingAndGlyphs">112660.50</text>
<text x="731" y="321" textLength="42.7" lengthAdjust="spacingAndGlyphs">111944.40</text>
<text x="731" y="354" textLength="42.7" lengthAdjust="spacingAndGlyphs">111228.30</text>
<text x="731" y="387" textLength="42.7" lengthAdjust="spacingAndGlyphs">110512.20</text>
<text x="731" y="420" textLength="42.7" lengthAdjust="spacingAndGlyphs">109796.10</text>
<text x="729" y="432" textLength="33" lengthAdjust="spacingAndGlyphs">739.763</text>
<text x="729" y="447" textLength="17.6" lengthAdjust="spacingAndGlyphs">0.00</text>
<text x="729" y="465" textLength="36" lengthAdjust="spacingAndGlyphs">-915.339</text>
<text x="2" y="481" textLength="51" lengthAdjust="spacingAndGlyphs">13 Oct 2025</text>
<text x="66" y="481" textLength="53.5" lengthAdjust="spacingAndGlyphs">13 Oct 20:20</text>
<text x="130" y="481" textLength="53.5" lengthAdjust="spacingAndGlyphs">13 Oct 21:40</text>
<text x="194" y="481" textLength="53.5" lengthAdjust="spacingAndGlyphs">13 Oct 23:00</text>
<text x="258" y="481" textLength="53.5" lengthAdjust="spacingAndGlyphs">14 Oct 00:20</text>
<text x="322" y="481" textLength="53.5" lengthAdjust="spacingAndGlyphs">14 Oct 01:40</text>
<text x="386" y="481" textLength="53.5" lengthAdjust="spacingAndGlyphs">14 Oct 03:00</text>
<text x="450" y="481" textLength="53.5" lengthAdjust="spacingAndGlyphs">14 Oct 04:20</text>
<text x="514" y="481" textLength="53.5" lengthAdjust="spacingAndGlyphs">14 Oct 05:40</text>
<text x="578" y="481" textLength="53.5" lengthAdjust="spacingAndGlyphs">14 Oct 07:00</text>
<text x="642" y="481" textLength="53.5" lengthAdjust="spacingAndGlyphs">14 Oct 08:20</text>
<text x="731" y="207" textLength="42.7" lengthAdjust="spacingAndGlyphs" style="fill:#fff;stroke:#fff">114409.66</text>
<text x="731" y="268" textLength="42.7" lengthAdjust="spacingAndGlyphs" style="fill:#fff;stroke:#fff">113085.24</text>
<text x="731" y="300" textLength="42.7" lengthAdjust="spacingAndGlyphs" style="fill:#fff;stroke:#fff">112398.98</text>
<text x="731" y="309" textLength="42.7" lengthAdjust="spacingAndGlyphs" style="fill:#fff;stroke:#fff">112187.80</text>
<text x="731" y="376" textLength="42.7" lengthAdjust="spacingAndGlyphs" style="fill:#fff;stroke:#fff">110724.31</text>
<text x="18" y="14" textLength="49.5" lengthAdjust="spacingAndGlyphs">#Bitcoin,M5</text>
<text x="73.6" y="14" textLength="42.5" lengthAdjust="spacingAndGlyphs">112377.24</text>
<text x="120.2" y="14" textLength="42.5" lengthAdjust="spacingAndGlyphs">112527.84</text>
<text x="166.5" y="14" textLength="42.5" lengthAdjust="spacingAndGlyphs">112372.50</text>
<text x="212.5" y="14" textLength="42.5" lengthAdjust="spacingAndGlyphs">112398.98</text>
<text x="7.5" y="434" textLength="53.5" lengthAdjust="spacingAndGlyphs">AO -584.442</text>
</svg></body></html>
